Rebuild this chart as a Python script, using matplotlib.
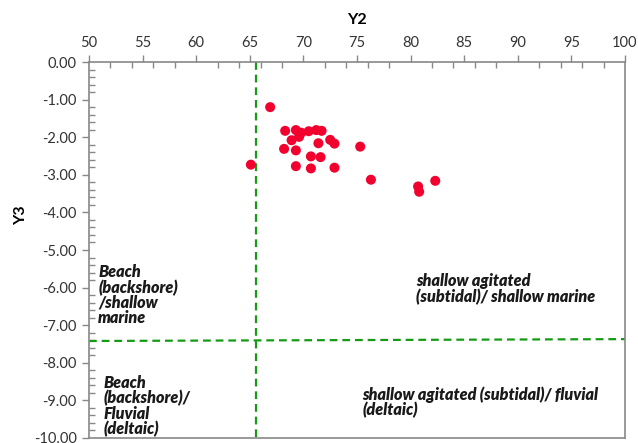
import matplotlib
matplotlib.use("Agg")
import matplotlib.pyplot as plt
from matplotlib.ticker import MultipleLocator, FormatStrFormatter

# Data
y2 = [66.9, 68.3, 69.3, 69.8, 69.6, 70.5, 71.2, 71.7, 68.9, 71.4, 72.5, 72.9,
      75.3, 68.2, 69.3, 70.7, 71.6, 65.1, 69.3, 70.7, 72.9, 76.3, 80.7, 80.8, 82.3]
y3 = [-1.20, -1.83, -1.81, -1.88, -1.99, -1.84, -1.81, -1.83, -2.08, -2.16, -2.07, -2.17,
      -2.25, -2.31, -2.35, -2.51, -2.53, -2.73, -2.77, -2.83, -2.81, -3.13, -3.31, -3.45, -3.16]

vline_x = 65.6
vline_y = [0.0, -10.0]
hline_x = [50, 100]
hline_y = [-7.42, -7.37]

labels = [
    ("Beach\n(backshore)\n/shallow\nmarine", 50.85, -5.38),
    ("shallow agitated\n(subtidal)/ shallow marine", 80.5, -5.62),
    ("Beach\n(backshore)/\nFluvial\n(deltaic)", 51.4, -8.33),
    ("shallow agitated (subtidal)/ fluvial\n(deltaic)", 75.5, -8.62),
]

plt.rcParams['font.family'] = ['Lato', 'DejaVu Sans']

fig = plt.figure(figsize=(6.38, 4.43), dpi=100)
ax = fig.add_axes([0.1395, 0.0113, 0.8401, 0.8487])

ax.scatter(y2, y3, s=52, color='#F2002E', edgecolors='none', zorder=3)

green = '#159B15'
ax.plot([vline_x, vline_x], vline_y, color=green, lw=1.6, ls=(0, (3.5, 2.2)), zorder=2)
ax.plot(hline_x, hline_y, color=green, lw=1.6, ls=(0, (3.5, 2.2)), zorder=2)

for txt, x, y in labels:
    ax.text(x, y, txt, fontsize=11.6, fontweight='heavy', fontstyle='italic',
            color='#1a1a1a', ha='left', va='top', linespacing=0.93)

ax.set_xlim(50, 100)
ax.set_ylim(-10, 0)
ax.xaxis.tick_top()
ax.xaxis.set_label_position('top')
ax.xaxis.set_major_locator(MultipleLocator(5))
ax.xaxis.set_minor_locator(MultipleLocator(2))
ax.yaxis.set_major_locator(MultipleLocator(1))
ax.yaxis.set_minor_locator(MultipleLocator(0.2))
ax.yaxis.set_major_formatter(FormatStrFormatter('%.2f'))

ax.tick_params(which='major', direction='out', length=5, width=1, color='#888888',
               labelsize=10.5, labelcolor='#333333', pad=4)
ax.tick_params(which='minor', direction='in', length=4, width=1, color='#888888')
ax.tick_params(axis='x', which='both', top=True, bottom=False)

for sp in ax.spines.values():
    sp.set_color('#888888')
    sp.set_linewidth(1.2)

ax.set_xlabel('Y2', fontsize=11.5, fontweight='bold', labelpad=8)
ax.set_ylabel('Y3', fontsize=11.5, fontweight='bold')
ax.yaxis.set_label_coords(-0.114, 0.593)

fig.savefig('out.png', dpi=100)
